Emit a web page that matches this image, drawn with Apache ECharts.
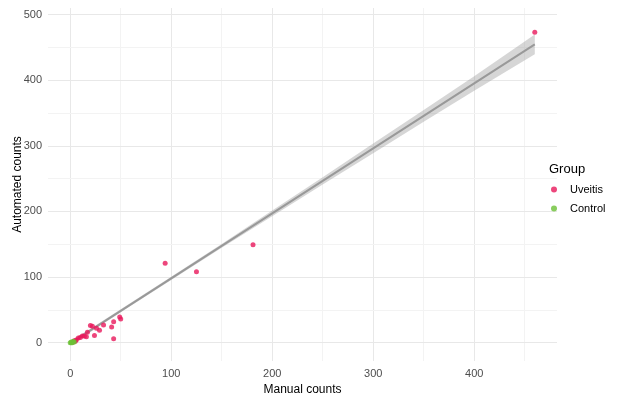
<!DOCTYPE html>
<html>
<head>
<meta charset="utf-8">
<script src="https://cdn.jsdelivr.net/npm/echarts@6/dist/echarts.min.js"></script>
<style>
html,body{margin:0;padding:0;background:#fff;}
#chart{width:632px;height:395px;}
</style>
</head>
<body>
<div id="chart"></div>
<script>
// ---- data ----
var uveitisX = [460, 181, 94, 125, 50, 49, 43, 41, 43, 33, 29, 24, 22, 20, 17, 16, 14, 12, 10, 8, 6, 5, 4, 3, 26];
var uveitisY = [473, 149, 121, 108, 36, 39, 32, 24, 6, 27, 19, 11, 25, 26, 16, 9, 10, 10, 8, 7, 4, 2, 3, 1, 22];
var controlX = [0, 1, 2, 3, 1, 4];
var controlY = [0, 1, 0, 2, 0, 1];
// fitted line and confidence band
var fitX     = [0, 25, 50, 100, 150, 200, 250, 300, 350, 400, 460];
var fitY     = [-1, 23.7, 48.5, 98, 147.5, 197, 246.5, 296, 345.5, 395, 454.5];
var fitLower = [-4, 21.2, 46.3, 95.5, 144.5, 192.5, 241, 288.5, 336.5, 384, 439.5];
var fitUpper = [2, 26.2, 50.7, 100.5, 150.5, 201.5, 252, 303.5, 354.5, 406, 469.5];
var xMajorTicks = [0, 100, 200, 300, 400];
var xMinorTicks = [50, 150, 250, 350, 450];
var yMajorTicks = [0, 100, 200, 300, 400, 500];
var yMinorTicks = [50, 150, 250, 350, 450];
var groups = ['Uveitis', 'Control'];

function pairs(xs, ys) { return xs.map(function (x, i) { return [x, ys[i]]; }); }

var MAJOR = { color: '#e8e8e8', width: 1, type: 'solid' };
var MINOR = { color: '#f3f3f3', width: 1, type: 'solid' };
var gridLines = [];
xMajorTicks.forEach(function (v) { gridLines.push({ xAxis: v, lineStyle: MAJOR }); });
xMinorTicks.forEach(function (v) { gridLines.push({ xAxis: v, lineStyle: MINOR }); });
yMajorTicks.forEach(function (v) { gridLines.push({ yAxis: v, lineStyle: MAJOR }); });
yMinorTicks.forEach(function (v) { gridLines.push({ yAxis: v, lineStyle: MINOR }); });

var FONT = 'Liberation Sans, Arial, sans-serif';
var chart = echarts.init(document.getElementById('chart'), null, { renderer: 'canvas' });
chart.setOption({
  animation: false,
  backgroundColor: '#ffffff',
  textStyle: { fontFamily: FONT },
  grid: { left: 48, right: 75, top: 8, bottom: 34, containLabel: false, outerBoundsMode: 'none' },
  title: {
    text: 'Group', left: 544, top: 158,
    textStyle: { fontFamily: FONT, fontSize: 13, fontWeight: 'normal', color: '#000' }
  },
  legend: {
    data: groups, orient: 'vertical', left: 546, top: 179,
    icon: 'circle', itemWidth: 6, itemHeight: 6, itemGap: 8,
    textStyle: { fontFamily: FONT, fontSize: 11, color: '#000', padding: [0, 0, 0, 8] }
  },
  xAxis: {
    type: 'value', min: -22, max: 482,
    name: 'Manual counts', nameLocation: 'middle', nameGap: 23,
    nameTextStyle: { fontFamily: FONT, fontSize: 12, color: '#000' },
    axisLine: { show: false }, axisTick: { show: false }, splitLine: { show: false },
    axisLabel: { showMinLabel: false, showMaxLabel: false, color: '#4d4d4d', fontSize: 11, fontFamily: FONT, margin: 7 }
  },
  yAxis: {
    type: 'value', min: -28, max: 510,
    name: 'Automated counts', nameLocation: 'middle', nameGap: 24, nameMoveOverlap: false,
    nameTextStyle: { fontFamily: FONT, fontSize: 12, color: '#000' },
    axisLine: { show: false }, axisTick: { show: false }, splitLine: { show: false },
    axisLabel: { showMinLabel: false, showMaxLabel: false, color: '#4d4d4d', fontSize: 11, fontFamily: FONT, margin: 6 }
  },
  series: [
    {
      type: 'scatter', data: [], z: 0, silent: true,
      markLine: { silent: true, z: 0, symbol: ['none', 'none'], label: { show: false }, animation: false, data: gridLines }
    },
    {
      type: 'custom', z: 1, silent: true,
      data: [0],
      renderItem: function (params, api) {
        var pts = [];
        for (var i = 0; i < fitX.length; i++) pts.push(api.coord([fitX[i], fitUpper[i]]));
        for (var j = fitX.length - 1; j >= 0; j--) pts.push(api.coord([fitX[j], fitLower[j]]));
        return { type: 'polygon', shape: { points: pts }, style: { fill: 'rgba(153,153,153,0.4)', stroke: null } };
      }
    },
    {
      type: 'line', z: 2, silent: true, data: pairs(fitX, fitY), showSymbol: false,
      lineStyle: { color: '#999999', width: 2 }
    },
    {
      name: 'Uveitis', type: 'scatter', z: 3, data: pairs(uveitisX, uveitisY),
      symbol: 'circle', symbolSize: 5, itemStyle: { color: '#E8185B' }
    },
    {
      name: 'Control', type: 'scatter', z: 4, data: pairs(controlX, controlY),
      symbol: 'circle', symbolSize: 5, itemStyle: { color: '#6CC136' }
    }
  ]
});
</script>
</body>
</html>
